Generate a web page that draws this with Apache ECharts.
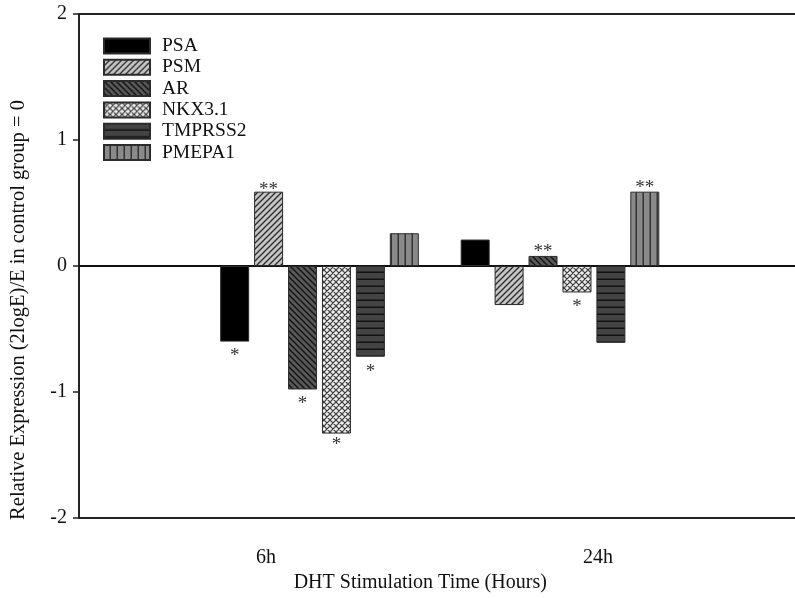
<!DOCTYPE html>
<html>
<head>
<meta charset="utf-8">
<script src="https://cdn.jsdelivr.net/npm/echarts@6/dist/echarts.min.js"></script>
<style>
  html, body { margin: 0; padding: 0; background: #fff; }
  #chart { width: 795px; height: 598px; }
</style>
</head>
<body>
<div id="chart"></div>
<script>
// Time points and genes
const timePoints = ['6h', '24h'];
const genes = ['PSA', 'PSM', 'AR', 'NKX3.1', 'TMPRSS2', 'PMEPA1'];

// Relative expression per gene, one value per time point
const psa     = [-0.60, 0.21];
const psm     = [0.59, -0.31];
const ar      = [-0.98, 0.08];
const nkx31   = [-1.33, -0.21];
const tmprss2 = [-0.72, -0.61];
const pmepa1  = [0.26, 0.59];

// Significance marks per gene, one per time point
const psaSig     = ['*', ''];
const psmSig     = ['**', ''];
const arSig      = ['*', '**'];
const nkx31Sig   = ['*', '*'];
const tmprss2Sig = ['*', ''];
const pmepa1Sig  = ['', '**'];

// Y axis ticks
const yTicks = [-2, -1, 0, 1, 2];

const serif = '"Liberation Serif", "DejaVu Serif", serif';

// Hatch fills drawn on small tiles
function tile(size, bg, draw) {
  const c = document.createElement('canvas');
  c.width = size; c.height = size;
  const g = c.getContext('2d');
  g.fillStyle = bg;
  g.fillRect(0, 0, size, size);
  draw(g, size);
  return { image: c, repeat: 'repeat' };
}
function lines(g, segs, color, w) {
  g.strokeStyle = color; g.lineWidth = w;
  g.beginPath();
  segs.forEach(s => { g.moveTo(s[0], s[1]); g.lineTo(s[2], s[3]); });
  g.stroke();
}
const fills = [
  '#000000',
  tile(6, '#c6c6c6', (g, s) => lines(g, [[0, s, s, 0], [-1, 1, 1, -1], [s - 1, s + 1, s + 1, s - 1]], '#2a2a2a', 1.3)),
  tile(6, '#595959', (g, s) => lines(g, [[0, 0, s, s], [-1, s - 1, 1, s + 1], [s - 1, -1, s + 1, 1]], '#151515', 1.5)),
  tile(6, '#ececec', (g, s) => lines(g, [[0, s, s, 0], [-1, 1, 1, -1], [s - 1, s + 1, s + 1, s - 1],
                                         [0, 0, s, s], [-1, s - 1, 1, s + 1], [s - 1, -1, s + 1, 1]], '#3a3a3a', 1.2)),
  tile(7, '#444444', (g, s) => lines(g, [[0, s - 0.75, s, s - 0.75]], '#121212', 1.5)),
  tile(7, '#8a8a8a', (g, s) => lines(g, [[s - 0.75, 0, s - 0.75, s]], '#333333', 1.5))
];

const seriesValues = [psa, psm, ar, nkx31, tmprss2, pmepa1];
const seriesSigs = [psaSig, psmSig, arSig, nkx31Sig, tmprss2Sig, pmepa1Sig];

// Fine offsets of the significance marks from the bar ends
const sigDistance = [
  [5, 0], [-8, 0], [5, -6], [2, 5], [6, 0], [0, -6]
];

const series = genes.map((name, i) => ({
  name: name,
  type: 'bar',
  xAxisIndex: 2,
  yAxisIndex: 1,
  barWidth: 29,
  barGap: '17%',
  itemStyle: { color: fills[i], borderColor: '#2b2b2b', borderWidth: 1 },
  emphasis: { disabled: true },
  data: seriesValues[i].map((v, j) => ({
    value: v,
    label: {
      show: seriesSigs[i][j] !== '',
      position: 'outside',
      distance: sigDistance[i][j],
      formatter: seriesSigs[i][j],
      fontFamily: serif,
      fontSize: 19,
      color: '#333'
    }
  }))
}));

const chart = echarts.init(document.getElementById('chart'), null, { renderer: 'canvas' });
chart.setOption({
  backgroundColor: '#fff',
  animation: false,
  grid: [
    // frame: runs on past the right edge of the page, so no right side shows
    { left: 79, width: 760, top: 14, bottom: 80, show: false },
    { left: 199.25, width: 481, top: 14, bottom: 80 }
  ],
  legend: {
    data: genes,
    orient: 'vertical',
    left: 103,
    top: 36,
    padding: 0,
    itemWidth: 46,
    itemHeight: 15,
    itemGap: 1.3,
    icon: 'rect',
    selectedMode: false,
    textStyle: { fontFamily: serif, fontSize: 19.5, color: '#111', padding: [0, 0, 0, 7] }
  },
  xAxis: [
    {
      // zero reference line across the full frame
      type: 'value', gridIndex: 0, min: 0, max: 1, position: 'bottom',
      axisLine: { show: true, onZero: true, lineStyle: { color: '#111', width: 2 } },
      axisTick: { show: false }, axisLabel: { show: false }, splitLine: { show: false }
    },
    {
      // top edge of the frame
      type: 'value', gridIndex: 0, min: 0, max: 1, position: 'top',
      axisLine: { show: true, onZero: false, lineStyle: { color: '#222', width: 2 } },
      axisTick: { show: false }, axisLabel: { show: false }, splitLine: { show: false }
    },
    {
      type: 'category', gridIndex: 1, data: timePoints,
      axisLine: { show: false, onZero: false },
      axisTick: { show: false },
      axisLabel: {
        margin: 30,
        formatter: (v) => v === '6h' ? '{a|' + v + '}' : '{b|' + v + '}',
        rich: {
          a: { fontFamily: serif, fontSize: 20, color: '#111', padding: [0, 107, 0, 0] },
          b: { fontFamily: serif, fontSize: 20, color: '#111', padding: [0, 0, 0, 76] }
        }
      },
      name: 'DHT Stimulation Time (Hours)',
      nameLocation: 'middle',
      nameGap: 53,
      nameTextStyle: { fontFamily: serif, fontSize: 20, color: '#111', padding: [0, 39, 0, 0] }
    }
  ],
  yAxis: [
    {
      type: 'value', gridIndex: 0, min: -2, max: 2, interval: 1,
      axisLine: { show: true, lineStyle: { color: '#222', width: 2 } },
      axisTick: { show: true, inside: false, length: 6, lineStyle: { color: '#222', width: 1.5 } },
      axisLabel: {
        margin: 12, fontFamily: serif, fontSize: 20, color: '#111',
        formatter: (v) => yTicks.indexOf(v) >= 0 ? String(v) : ''
      },
      // bottom edge of the frame
      splitLine: { show: true,
        lineStyle: { color: ['#222', 'transparent', 'transparent', 'transparent', 'transparent'], width: 2 } },
      name: 'Relative Expression (2logE)/E in control group = 0',
      nameLocation: 'middle',
      nameGap: 50,
      nameRotate: 90,
      nameTextStyle: { fontFamily: serif, fontSize: 20.5, color: '#111', padding: [0, 88, 0, 0] }
    },
    {
      type: 'value', gridIndex: 1, min: -2, max: 2, interval: 1, show: false
    }
  ],
  series: series
});
</script>
</body>
</html>
